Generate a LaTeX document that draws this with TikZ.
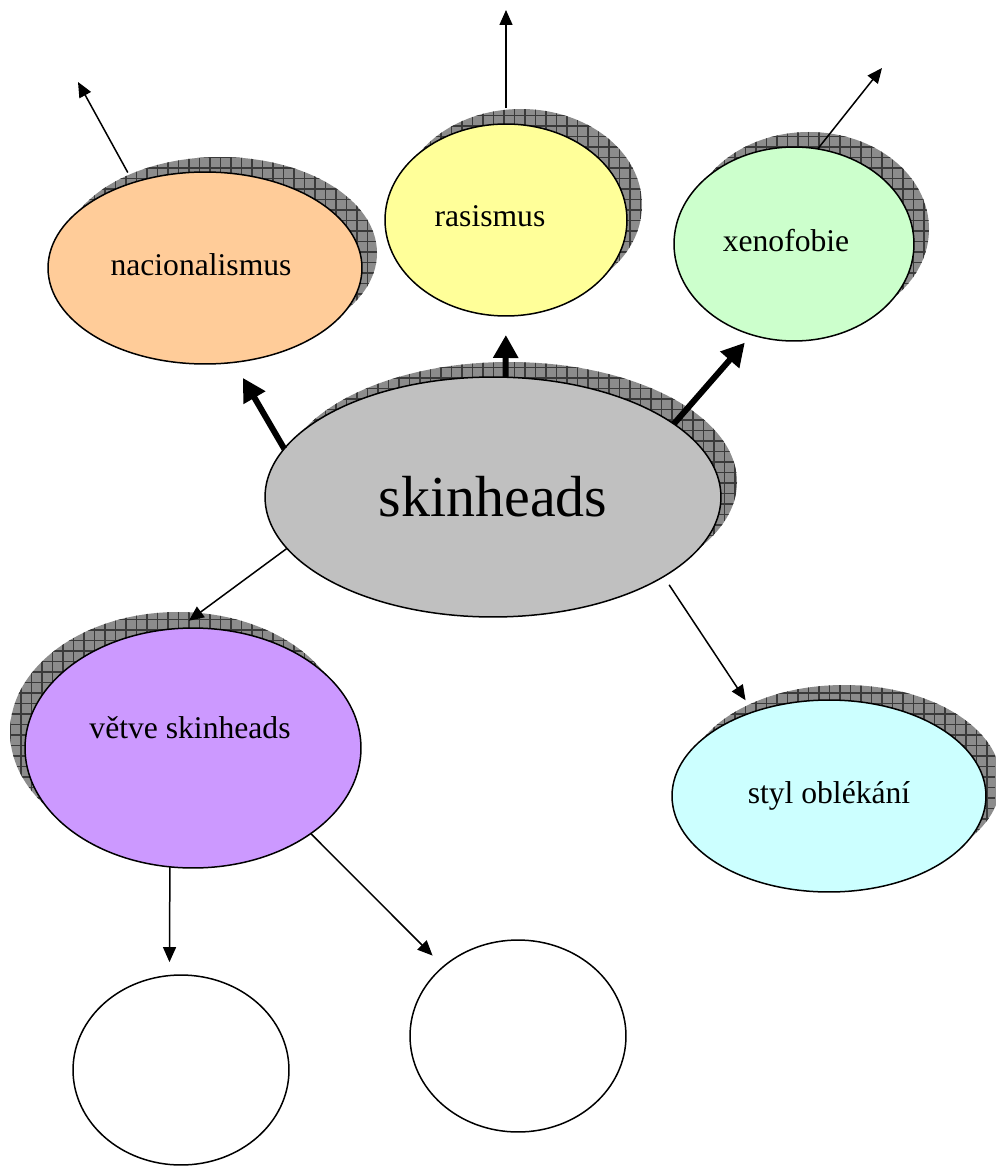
\documentclass[tikz,border=0pt]{standalone}
\usepackage{fontspec}
\setmainfont{Liberation Serif}
\usetikzlibrary{arrows.meta,shapes.geometric}

\definecolor{nacfill}{HTML}{FFCC99}
\definecolor{rasfill}{HTML}{FFFF99}
\definecolor{xenfill}{HTML}{CCFFCC}
\definecolor{skinfill}{HTML}{C0C0C0}
\definecolor{vetfill}{HTML}{CC99FF}
\definecolor{stylfill}{HTML}{CCFFFF}
\definecolor{shadegray}{HTML}{8C8C8C}
\definecolor{shadeline}{HTML}{3A3A3A}

\tikzset{
  bubble/.style={ellipse, draw=black, line width=0.03cm, inner sep=0pt, outer sep=0pt},
  txt/.style={font=\fontsize{18}{20}\selectfont, inner sep=0pt},
  bigtxt/.style={font=\fontsize{33}{36}\selectfont, inner sep=0pt},
  link/.style={line width=0.03cm, -{Triangle[length=0.3cm,width=0.26cm]}},
  boldlink/.style={line width=0.12cm, -{Triangle[length=0.46cm,width=0.48cm]}},
}

% hatched drop shadow: centre x, centre y, x radius, y radius (all in px units)
\newcommand\dropshade[4]{%
  \begin{scope}
    \clip (#1,#2) ellipse [x radius=#3*0.02cm, y radius=#4*0.02cm];
    \fill[shadegray] (#1-#3-2,#2-#4-2) rectangle (#1+#3+2,#2+#4+2);
    \foreach \g in {0,10.5,...,1000}
      \draw[shadeline, line width=0.022cm] (\g,0) -- (\g,1169);
    \foreach \g in {0,10.5,...,1169}
      \draw[shadeline, line width=0.022cm] (0,\g) -- (995,\g);
  \end{scope}}

\begin{document}
\begin{tikzpicture}[x=0.02cm, y=-0.02cm]
\useasboundingbox (0,0) rectangle (995,1169);

% shadows
\dropshade{220}{253}{157}{96}
\dropshade{521}{205}{121}{96}
\dropshade{809}{229}{120}{97}
\dropshade{509}{482}{228}{120}
\dropshade{178}{732}{168}{120}
\dropshade{844}{781}{157}{96}

% bubbles
\node[bubble, fill=nacfill, minimum width=6.28cm, minimum height=3.84cm,
      label={[txt, xshift=-0.08cm, yshift=0.06cm]center:nacionalismus}] (nac) at (205,268) {};
\node[bubble, fill=rasfill, minimum width=4.84cm, minimum height=3.84cm,
      label={[txt, xshift=-0.32cm, yshift=0.08cm]center:rasismus}] (ras) at (506,220) {};
\node[bubble, fill=xenfill, minimum width=4.8cm, minimum height=3.88cm,
      label={[txt, xshift=-0.16cm, yshift=0.06cm]center:xenofobie}] (xen) at (794,244) {};
\node[bubble, fill=skinfill, minimum width=9.12cm, minimum height=4.8cm,
      label={[bigtxt]center:skinheads}] (skin) at (493,497) {};
\node[bubble, fill=vetfill, minimum width=6.72cm, minimum height=4.8cm,
      label={[txt, xshift=-0.06cm, yshift=0.4cm]center:větve skinheads}] (vet) at (193,748) {};
\node[bubble, fill=stylfill, minimum width=6.28cm, minimum height=3.84cm,
      label={[txt]center:styl oblékání}] (styl) at (829,796) {};
\node[bubble, fill=white, minimum width=4.32cm, minimum height=3.8cm] (c1) at (181,1070) {};
\node[bubble, fill=white, minimum width=4.32cm, minimum height=3.84cm] (c2) at (518,1036) {};

% free ends
\coordinate (nacTip) at (78,82);
\coordinate (rasTip) at (506,10);
\coordinate (xenTip) at (882,68);

% connectors
\draw[link, shorten <=0.23cm] (nac.130) -- (nacTip);
\draw[link, shorten <=0.32cm] (ras.90) -- (rasTip);
\draw[link] (xen.76) -- (xenTip);

\draw[boldlink, shorten >=0.36cm] (skin.167) -- (nac.-73);
\draw[boldlink, shorten >=0.38cm] (skin.84) -- (ras.-90);
\draw[boldlink, shorten >=0.21cm] (skin.22) -- (xen.245);

\draw[link, shorten >=0.26cm] (skin.194) -- (vet.97);
\draw[link, shorten <=0.2cm, shorten >=0.28cm] (skin.-25) -- (styl.132);
\draw[link, shorten >=0.27cm] (vet.259) -- (c1.97);
\draw[link, shorten >=0.31cm] (vet.-36) -- (c2.137);
\end{tikzpicture}
\end{document}
